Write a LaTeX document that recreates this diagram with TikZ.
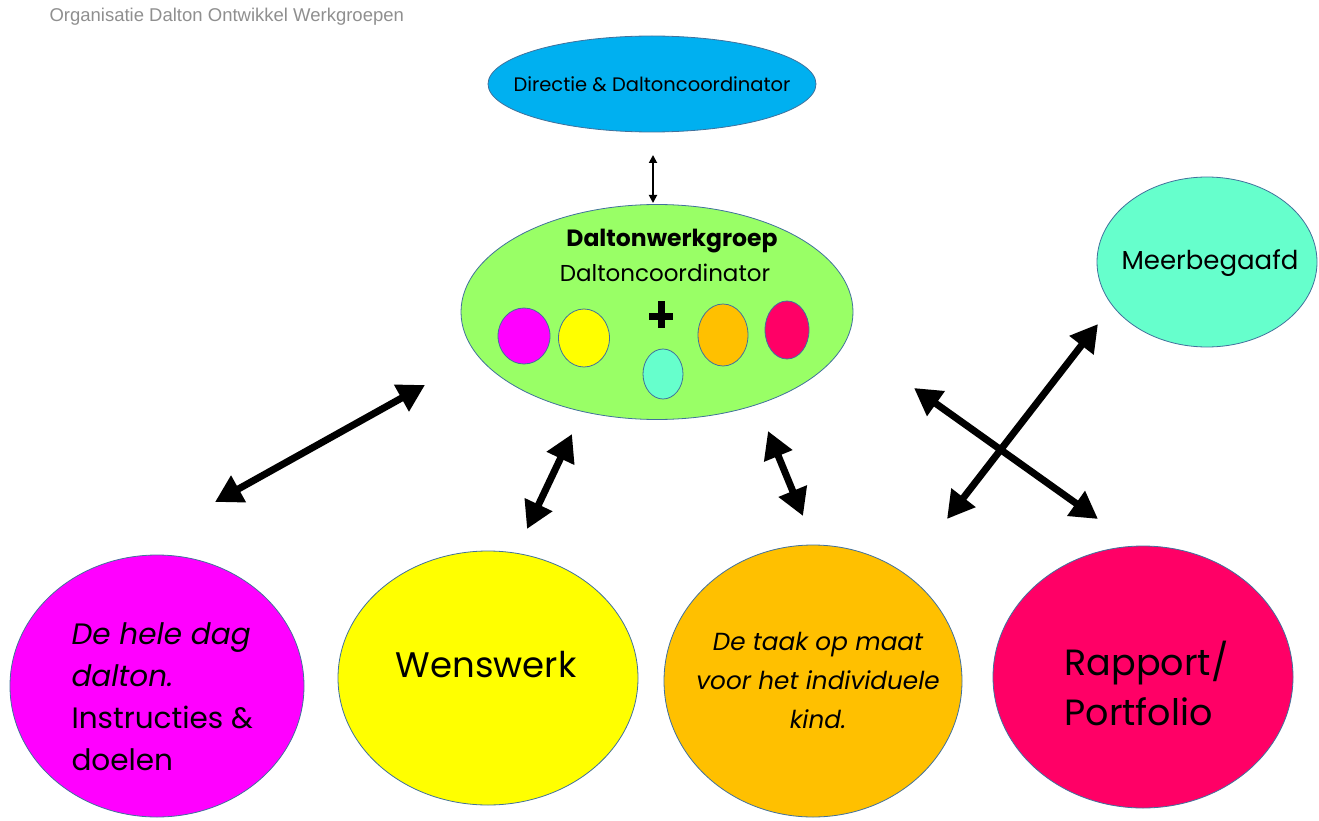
\documentclass[tikz,border=0pt]{standalone}
\usepackage{fontspec}
\setmainfont{Poppins}
\newfontfamily\titelfont{Liberation Sans}
\usetikzlibrary{arrows.meta,shapes.geometric}

\definecolor{directieblauw}{HTML}{00B0F0}
\definecolor{groepgroen}{HTML}{99FF66}
\definecolor{dagpaars}{HTML}{FF00FF}
\definecolor{wensgeel}{HTML}{FFFF00}
\definecolor{taakoranje}{HTML}{FFC000}
\definecolor{rapportrood}{HTML}{FF0066}
\definecolor{meerturkoois}{HTML}{66FFCC}
\definecolor{randblauw}{HTML}{41719C}
\definecolor{titelgrijs}{HTML}{8F8F8F}

\begin{document}
\begin{tikzpicture}[x=1pt, y=-1pt,
	bol/.style={ellipse, draw=randblauw, line width=0.8pt, inner sep=0pt},
	dik/.style={{Triangle[length=27pt,width=29pt]}-{Triangle[length=27pt,width=29pt]}, line width=7pt},
	dun/.style={{Triangle[length=8pt,width=8pt]}-{Triangle[length=8pt,width=8pt]}, line width=1.8pt}]
	\useasboundingbox (0,0) rectangle (1319,821);

	% titel
	\node[anchor=west, text=titelgrijs, font=\titelfont\fontsize{18.5}{20}\selectfont] (titel) at (46,17) {Organisatie Dalton Ontwikkel Werkgroepen};

	% bovenste rij
	\node[bol, fill=directieblauw, minimum width=328, minimum height=96] (directie) at (652,84) {};
	\node[bol, fill=groepgroen, minimum width=392, minimum height=215] (groep) at (657,312) {};
	\node[bol, fill=meerturkoois, minimum width=220, minimum height=170] (meer) at (1207,262) {};

	\node[font=\fontsize{19.5}{22}\selectfont] (directietekst) at (652,84) {Directie \& Daltoncoordinator};
	\node[font=\fontsize{26}{28}\selectfont] (meertekst) at (1210,263) {Meerbegaafd};
	\node[font=\bfseries\fontsize{23.5}{26}\selectfont] (groepnaam) at (672,241) {Daltonwerkgroep};
	\node[font=\fontsize{23}{26}\selectfont] (groepcoord) at (665,273) {Daltoncoordinator};

	% kleine bollen in de werkgroep
	\node[bol, fill=dagpaars,     minimum width=52, minimum height=56] (kleindag)     at (524,336) {};
	\node[bol, fill=wensgeel,     minimum width=51, minimum height=58] (kleinwens)    at (584,338) {};
	\node[bol, fill=meerturkoois, minimum width=40, minimum height=50] (kleinmeer)    at (663,374) {};
	\node[bol, fill=taakoranje,   minimum width=50, minimum height=62] (kleintaak)    at (723,335) {};
	\node[bol, fill=rapportrood,  minimum width=44, minimum height=58] (kleinrapport) at (787,330) {};
	\draw[line width=7pt] (661,301) -- (661,328) (649,316) -- (673,316);

	% onderste rij
	\node[bol, fill=dagpaars,    minimum width=294, minimum height=262] (dag)     at (157,686) {};
	\node[bol, fill=wensgeel,    minimum width=300, minimum height=254] (wens)    at (488,678) {};
	\node[bol, fill=taakoranje,  minimum width=298, minimum height=272] (taak)    at (813,681) {};
	\node[bol, fill=rapportrood, minimum width=300, minimum height=262] (rapport) at (1143,677) {};

	\node[anchor=west, align=left, font=\fontsize{29.5}{42}\selectfont] (dagtekst) at (68,697)
		{\textit{De hele dag}\\\textit{dalton.}\\Instructies \&\\doelen};
	\node[font=\fontsize{35.5}{40}\selectfont] (wenstekst) at (486,665) {Wenswerk};
	\node[align=center, font=\itshape\fontsize{24.7}{39}\selectfont] (taaktekst) at (818,680)
		{De taak op maat\\voor het individuele\\kind.};
	\node[anchor=west, align=left, font=\fontsize{36.5}{50}\selectfont] (rapporttekst) at (1061,683)
		{Rapport/\\Portfolio};

	% pijlen
	\coordinate (directiepijl)	at (653,155);
	\coordinate (groeppijl)		at (653,203);
	\coordinate (dagA)			at (215,502);
	\coordinate (dagB)			at (425,385);
	\coordinate (wensA)			at (527,529);
	\coordinate (wensB)			at (572,434);
	\coordinate (taakA)			at (768,431);
	\coordinate (taakB)			at (803,516);
	\coordinate (rapportA)		at (914,388);
	\coordinate (rapportB)		at (1098,519);
	\coordinate (meerA)			at (947,519);
	\coordinate (meerB)			at (1098,324);

	\draw[dun] (directiepijl) -- (groeppijl);
	\draw[dik] (dagA) -- (dagB);
	\draw[dik] (wensA) -- (wensB);
	\draw[dik] (taakA) -- (taakB);
	\draw[dik] (rapportA) -- (rapportB);
	\draw[dik] (meerA) -- (meerB);
\end{tikzpicture}
\end{document}
